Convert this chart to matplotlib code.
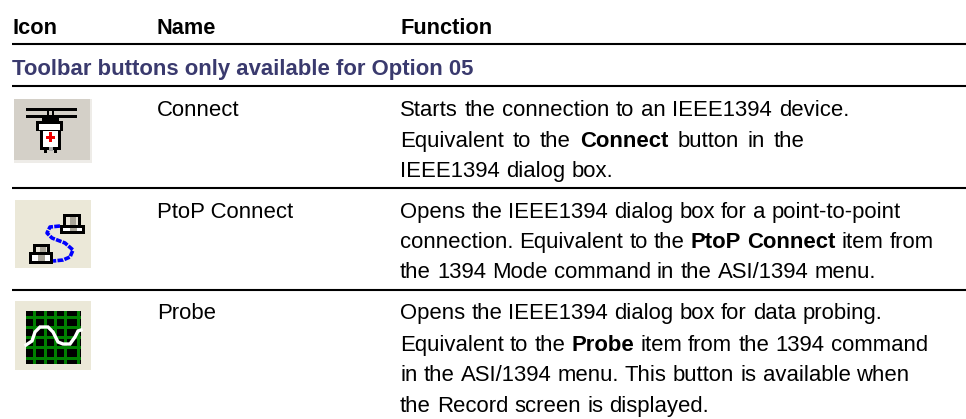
import matplotlib
matplotlib.use("Agg")
import matplotlib.pyplot as plt
from matplotlib.patches import Rectangle

headers = [("Icon", 12.5), ("Name", 157), ("Function", 400)]
section_title = "Toolbar buttons only available for Option 05"
names = ["Connect", "PtoP Connect", "Probe"]
name_baselines = [116, 218, 319]
# each line: baseline, extra word gap in px, segments of (text, bold)
functions = [
    [(116, 0.5, [("Starts the connection to an IEEE1394 device.", False)]),
     (147, 2.8, [("Equivalent to the", False), ("Connect", True), ("button in the", False)]),
     (177, 0, [("IEEE1394 dialog box.", False)])],
    [(218, 0, [("Opens the IEEE1394 dialog box for a point-to-point", False)]),
     (248, 0, [("connection. Equivalent to the", False), ("PtoP Connect", True), ("item from", False)]),
     (278, 0, [("the 1394 Mode command in the ASI/1394 menu.", False)])],
    [(319, 0, [("Opens the IEEE1394 dialog box for data probing.", False)]),
     (351, 0, [("Equivalent to the", False), ("Probe", True), ("item from the 1394 command", False)]),
     (381, 0, [("in the ASI/1394 menu. This button is available when", False)]),
     (412, 0, [("the Record screen is displayed.", False)])],
]
rule_ys = [44.5, 86, 188, 289.7]
sine_x = [26, 32, 35, 40, 48, 53, 58, 63, 70, 75, 78, 81]
sine_y = [345, 341, 332, 327, 327, 332, 342, 344, 344, 337, 331, 330]
cable_x = [60, 50, 47, 52, 65, 73, 70, 63, 53]
cable_y = [226, 227, 233, 238, 243, 250, 257, 260, 261]

FONT = "Liberation Sans"
SIZE = 15.9
fig = plt.figure(figsize=(9.66, 4.19), dpi=100)
ax = fig.add_axes([0, 0, 1, 1])
ax.set_xlim(0, 966)
ax.set_ylim(419, 0)
ax.axis("off")

def T(x, y, s, bold=False, color="black", size=SIZE):
    return ax.text(x, y, s, fontfamily=FONT, fontsize=size, color=color,
                   fontweight="bold" if bold else "normal", va="baseline", ha="left")

for s, x in headers:
    T(x, 34, s, bold=True, size=15.7)
T(12.5, 75, section_title, bold=True, color="#3a3a6e", size=15.9)
for y in rule_ys:
    ax.plot([12, 966], [y, y], color="black", lw=1.5, solid_capstyle="butt")
for s, y in zip(names, name_baselines):
    T(157, y, s)

fig.canvas.draw()
r = fig.canvas.get_renderer()

def width(s, bold):
    m = T(0, 0, s, bold=bold)
    w = m.get_window_extent(r).width
    m.remove()
    return w

def advance(s, bold):
    # distance from a word's start to the next word's start, space included
    return width(s + " x", bold) - width("x", bold)

for row in functions:
    for y, gap, segs in row:
        x = 400
        for s, b in segs:
            for word in s.split(" "):
                T(x, y, word, bold=b)
                x += advance(word, b) + gap

def rect(x, y, w, h, c):
    ax.add_patch(Rectangle((x, y), w, h, fc=c, ec="none"))

# Connect icon
rect(14, 99, 78, 64, "#eeece8")
rect(14, 99, 76, 61, "#d4d0c8")
rect(26, 108, 51, 2.5, "black"); rect(26, 115, 51, 2.5, "black")
rect(47, 110, 2, 7, "black"); rect(52, 110, 2, 7, "black")
rect(42, 117, 17, 5, "black")
rect(36, 121, 27, 10, "black")
rect(39, 124, 21, 6, "white")
rect(40, 130, 21, 20, "black")
rect(43, 131, 15, 16, "white")
rect(49, 132, 3, 10, "#ee0000"); rect(46, 135.5, 9, 3, "#ee0000")
rect(44, 150, 3, 3, "black"); rect(49, 147, 4, 4, "#aaaaaa"); rect(54, 150, 3, 3, "black")

# PtoP icon
rect(15, 200, 76, 68, "#ebe8d8")
def printer(tx, ty, tw, th, bx, by, bw, bh):
    rect(tx, ty, tw, th, "black")
    rect(tx + 3, ty + 3, tw - 6, th - 3, "#e8e4d8")
    rect(tx + tw / 2 - 2, ty + 3, 6, th - 3, "#a8a498")
    rect(bx, by, bw, bh, "black")
    rect(bx + 3, by + 3, bw - 6, bh - 6, "white")
    rect(bx + bw / 2 - 3, by + 3, 7, bh - 6, "#a8a498")
printer(63, 214, 18, 11, 60, 225, 25, 9)
printer(33, 244, 17, 8, 29, 252, 24, 12)
ax.plot(cable_x, cable_y, color="#0000ff", lw=2.6, ls=(0, (1.6, 0.35)))

# Probe icon
rect(15, 301, 76, 69, "#ebe8d8")
rect(26, 311, 55, 53, "black")
for gx in [33, 44, 54, 64, 77]:
    rect(gx, 311, 3, 53, "#008000")
for gy in [316, 326, 336, 346, 357]:
    rect(26, gy, 55, 3, "#008000")
ax.plot(sine_x, sine_y, color="white", lw=2.4, solid_joinstyle="miter")

fig.savefig("out.png", dpi=100)
